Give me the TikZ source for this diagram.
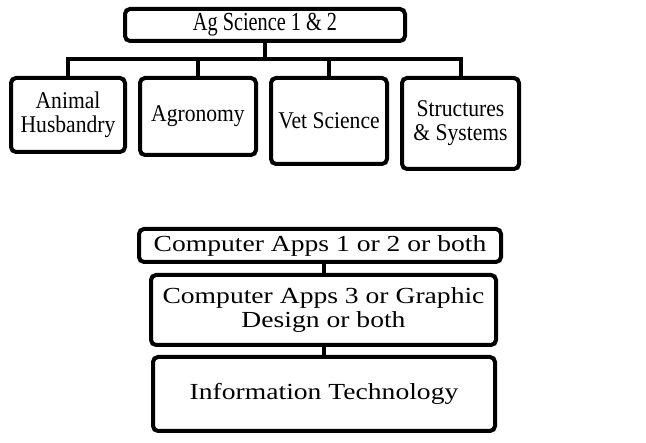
\documentclass[tikz,border=0pt]{standalone}
\usepackage{fontspec}
\setmainfont{Liberation Serif}
\newfontfamily\topfont{Liberation Serif}[FakeStretch=0.78]
\newfontfamily\kidfont{Liberation Serif}[FakeStretch=0.9]
\newfontfamily\botfont{Liberation Serif}[FakeStretch=1.2]
\begin{document}
\begin{tikzpicture}[x=1pt,y=1pt,
  box/.style={draw=black,line width=4pt,rounded corners=5pt,fill=white,align=center,inner sep=0pt},
  conn/.style={draw=black,line width=4pt},
  kid/.style={box,font=\kidfont\fontsize{24}{24}\selectfont},
  bot/.style={box,font=\botfont\fontsize{23}{24}\selectfont}]
\useasboundingbox (0,0) rectangle (646,-443);
% top tree
\node[box,font=\topfont\fontsize{26}{28}\selectfont,minimum width=280,minimum height=32] (ag) at (265,-25) {Ag Science 1 \& 2};
\node[kid,minimum width=114,minimum height=74] (ah) at (68,-115) {Animal\\Husbandry};
\node[kid,minimum width=116,minimum height=77] (agr) at (198,-116.5) {Agronomy};
\node[kid,minimum width=116,minimum height=86] (vet) at (329,-121) {Vet Science};
\node[kid,minimum width=117,minimum height=91] (str) at (460.5,-123.5) {Structures\\\& Systems};
\coordinate (j) at (265,-59);
\draw[conn] (ag.south) -- (j);
\draw[conn] (ah.north) |- (j);
\draw[conn] (agr.north) |- (j);
\draw[conn] (vet.north) |- (j);
\draw[conn] (str.north) |- (j);
% bottom chain
\node[bot,minimum width=362,minimum height=33] (ca1) at (320,-245.5) {Computer Apps 1 or 2 or both};
\node[bot,minimum width=345,minimum height=70] (ca3) at (323.5,-310) {Computer Apps 3 or Graphic\\Design or both};
\node[bot,minimum width=342,minimum height=74] (it) at (324,-394) {Information Technology};
\draw[conn] (ca3.north -| 324,0) -- (ca1.south -| 324,0);
\draw[conn] (it.north -| 324,0) -- (ca3.south -| 324,0);
\end{tikzpicture}
\end{document}
